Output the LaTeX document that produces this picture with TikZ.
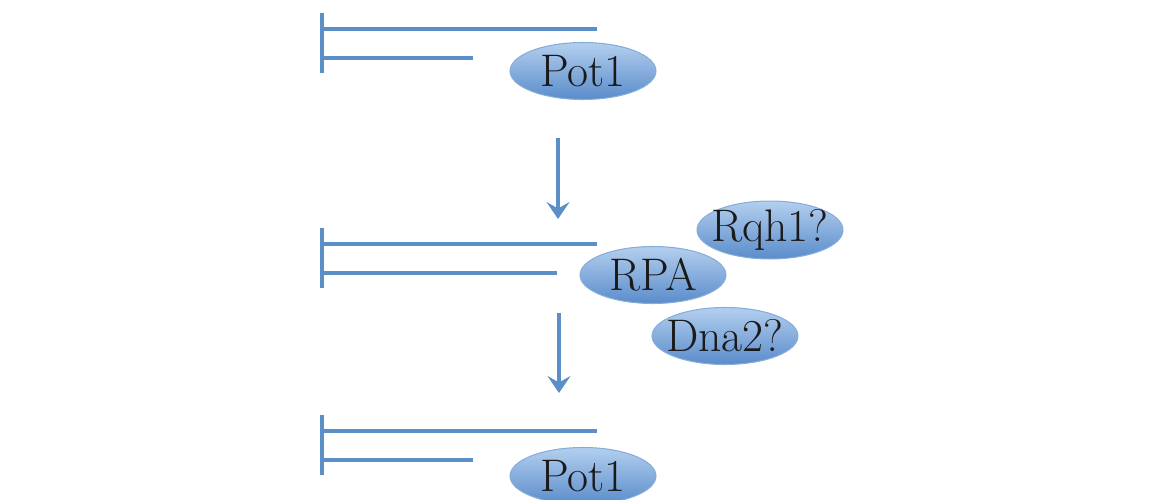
\documentclass[tikz,border=0pt]{standalone}
\usepackage{tikz}
\usetikzlibrary{arrows.meta,positioning,shapes.geometric}
\definecolor{strand}{HTML}{5B8FC8}
\definecolor{protop}{HTML}{B3CFEE}
\definecolor{probot}{HTML}{5A8CCB}
\definecolor{probd}{HTML}{86ACD9}
\definecolor{ink}{HTML}{1A1A1A}
\tikzset{
  dna/.style={strand,line width=2.3pt},
  protein/.style={ellipse,draw=probd,line width=0.6pt,top color=protop,
                  bottom color=probot,minimum width=2.92cm,
                  minimum height=1.14cm,inner ysep=0pt,inner xsep=-0.25cm,
                  text=ink,font=\fontsize{26}{30}\selectfont},
  arrowstep/.style={-{Stealth[length=3.4mm,width=4.6mm,inset=1.3mm]},
                    line width=2pt,strand},
}

\begin{document}
\begin{tikzpicture}[x=0.02cm,y=-0.02cm]
  \clip(0,0)rectangle(1149,500);
  % telomere ends: bar, long strand, short strand
  \foreach \y/\e in {13/473, 228/557, 415/473}{
    \draw[dna](322,\y)--(322,\y+60);
    \draw[dna](322,\y+16)--(597,\y+16);
    \draw[dna](322,\y+45)--(\e,\y+45);
  }
  \node[protein](pot1a)at(583,71){Pot1};
  \node[protein,minimum height=0.98cm](rqh1)at(770,230){Rqh1?};
  \node[protein](rpa)at(653,275){RPA};
  \node[protein](dna2)at(725,336){Dna2?};
  \node[protein](pot1b)at(583,476){Pot1};
  \coordinate(stepa)at(558,138);
  \coordinate(stepb)at(558,219);
  \coordinate(stepc)at(559,313);
  \coordinate(stepd)at(559,393);
  \draw[arrowstep](stepa)--(stepb);
  \draw[arrowstep](stepc)--(stepd);
\end{tikzpicture}
\end{document}
